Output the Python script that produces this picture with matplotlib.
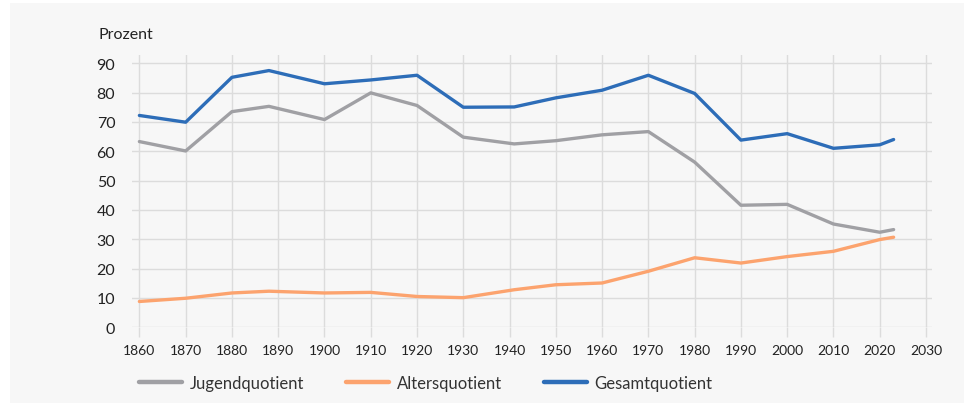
import matplotlib.pyplot as plt
from matplotlib.patches import Rectangle

# census years and dependency ratios (percent)
years = [1860, 1870, 1880, 1888, 1900, 1910, 1920, 1930, 1941, 1950,
         1960, 1970, 1980, 1990, 2000, 2010, 2020, 2023]
jugend = [63.3, 60.1, 73.5, 75.3, 70.8, 79.9, 75.6, 64.8, 62.5, 63.6,
          65.6, 66.7, 56.3, 41.6, 41.9, 35.2, 32.4, 33.3]
alter = [8.8, 9.9, 11.7, 12.3, 11.7, 11.9, 10.5, 10.1, 12.8, 14.5,
         15.1, 19.1, 23.7, 21.9, 24.1, 25.9, 29.9, 30.7]
gesamt = [72.2, 69.9, 85.2, 87.5, 83.0, 84.3, 85.9, 75.0, 75.1, 78.2,
          80.8, 85.9, 79.7, 63.8, 66.0, 61.0, 62.2, 64.0]

x_ticks = list(range(1860, 2031, 10))
y_ticks = list(range(0, 91, 10))

plt.rcParams['font.family'] = ['Lato', 'DejaVu Sans']

bg = "#f7f7f7"
grid_col = "#dcdcdc"

fig = plt.figure(figsize=(9.74, 4.14), dpi=100)
fig.patch.set_facecolor("white")
fig.patches.append(Rectangle((10 / 974, 10 / 414), 954 / 974, 400 / 414,
                             transform=fig.transFigure, facecolor=bg,
                             edgecolor="none", zorder=-5))

ax = fig.add_axes([0.1355, 0.207, 0.8214, 0.6577])
ax.set_facecolor(bg)

ax.plot(years, jugend, color="#a0a0a4", lw=2.4, label="Jugendquotient",
        solid_capstyle="round", solid_joinstyle="round")
ax.plot(years, alter, color="#fca36e", lw=2.4, label="Altersquotient",
        solid_capstyle="round", solid_joinstyle="round")
ax.plot(years, gesamt, color="#2d6db8", lw=2.4, label="Gesamtquotient",
        solid_capstyle="round", solid_joinstyle="round")

ax.set_xlim(1858.4, 2031.3)
ax.set_ylim(0, 92.8)
ax.set_xticks(x_ticks)
ax.set_yticks(y_ticks)
ax.grid(True, color=grid_col, lw=1)
ax.set_axisbelow(True)
for s in ax.spines.values():
    s.set_visible(False)

ax.tick_params(axis="y", length=0, pad=12, labelsize=11.5, labelcolor="#222222")
ax.tick_params(axis="x", length=7, width=1, color=grid_col, pad=5,
               labelsize=10, labelcolor="#222222")

fig.text(98 / 974, 1 - 35 / 414, "Prozent", fontsize=11.5, color="#222222",
         va="center", ha="left")

leg = fig.legend(loc="center left", bbox_to_anchor=(124 / 974, 1 - 384 / 414),
                 ncol=3, frameon=False, fontsize=12, handlelength=2.6,
                 handletextpad=0.45, columnspacing=2.5)
for line in leg.get_lines():
    line.set_linewidth(3.2)
for t in leg.get_texts():
    t.set_color("#333333")

fig.savefig("out.png", dpi=100, facecolor=fig.get_facecolor())
